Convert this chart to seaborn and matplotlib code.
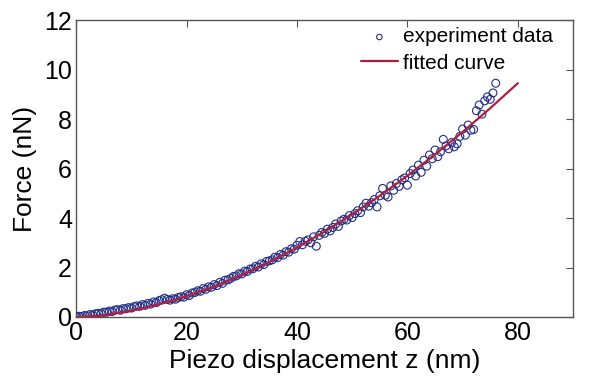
import matplotlib
matplotlib.use("Agg")
import matplotlib.pyplot as plt
import seaborn as sns
import pandas as pd

# ---- data ----
z_data = [
    0.0, 0.5, 1.0, 1.5, 2.0, 2.5, 3.0, 3.5, 4.0, 4.5,
    5.0, 5.5, 6.0, 6.5, 7.0, 7.5, 8.0, 8.5, 9.0, 9.5,
    10.0, 10.5, 11.0, 11.5, 12.0, 12.5, 13.0, 13.5, 14.0, 14.5,
    15.0, 15.5, 16.0, 16.5, 17.0, 17.5, 18.0, 18.5, 19.0, 19.5,
    20.0, 20.5, 21.0, 21.5, 22.0, 22.5, 23.0, 23.5, 24.0, 24.5,
    25.0, 25.5, 26.0, 26.5, 27.0, 27.5, 28.0, 28.5, 29.0, 29.5,
    30.0, 30.5, 31.0, 31.5, 32.0, 32.5, 33.0, 33.5, 34.0, 34.5,
    35.0, 35.5, 36.0, 36.5, 37.0, 37.5, 38.0, 38.5, 39.0, 39.5,
    40.0, 40.5, 41.0, 41.5, 42.0, 42.5, 43.0, 43.5, 44.0, 44.5,
    45.0, 45.5, 46.0, 46.5, 47.0, 47.5, 48.0, 48.5, 49.0, 49.5,
    50.0, 50.5, 51.0, 51.5, 52.0, 52.5, 53.0, 53.5, 54.0, 54.5,
    55.0, 55.5, 56.0, 56.5, 57.0, 57.5, 58.0, 58.5, 59.0, 59.5,
    60.0, 60.5, 61.0, 61.5, 62.0, 62.5, 63.0, 63.5, 64.0, 64.5,
    65.0, 65.5, 66.0, 66.5, 67.0, 67.5, 68.0, 68.5, 69.0, 69.5,
    70.0, 70.5, 71.0, 71.5, 72.0, 72.5, 73.0, 73.5, 74.0, 74.5,
    75.0, 75.5, 76.0,
]
force_data = [
    0.00, 0.03, 0.02, 0.06, 0.05, 0.10, 0.08, 0.13, 0.15, 0.14,
    0.20, 0.19, 0.24, 0.22, 0.28, 0.30, 0.27, 0.34, 0.33, 0.38,
    0.36, 0.42, 0.45, 0.43, 0.50, 0.47, 0.55, 0.52, 0.61, 0.58,
    0.66, 0.70, 0.76, 0.71, 0.68, 0.74, 0.72, 0.79, 0.82, 0.80,
    0.90, 0.87, 0.97, 0.99, 1.06, 1.04, 1.15, 1.12, 1.22, 1.20,
    1.31, 1.27, 1.40, 1.36, 1.49, 1.50, 1.56, 1.64, 1.66, 1.75,
    1.74, 1.85, 1.84, 1.94, 1.95, 2.05, 2.02, 2.15, 2.12, 2.25,
    2.27, 2.31, 2.42, 2.40, 2.53, 2.50, 2.64, 2.62, 2.76, 2.74,
    2.90, 3.05, 2.92, 3.06, 3.12, 3.00, 3.24, 2.86, 3.30, 3.42,
    3.38, 3.55, 3.48, 3.62, 3.76, 3.66, 3.88, 3.95, 3.92, 4.10,
    4.02, 4.18, 4.30, 4.22, 4.45, 4.60, 4.48, 4.62, 4.75, 4.45,
    4.90, 5.20, 4.92, 4.85, 5.30, 5.12, 5.40, 5.28, 5.55, 5.62,
    5.33, 5.80, 5.94, 5.70, 6.14, 5.85, 6.34, 6.10, 6.55, 6.40,
    6.75, 6.48, 6.68, 7.18, 6.92, 6.80, 7.05, 6.88, 7.00, 7.30,
    7.60, 7.35, 7.76, 7.55, 7.58, 8.34, 8.57, 8.20, 8.74, 8.90,
    8.80, 9.06, 9.45,
]
z_fit = [0, 5, 10, 15, 20, 25, 30, 35, 40, 45, 50, 55, 60, 65, 70, 75, 80]
force_fit = [0.00, 0.07, 0.25, 0.51, 0.84, 1.23, 1.70, 2.22, 2.81, 3.45,
             4.15, 4.90, 5.71, 6.57, 7.48, 8.44, 9.45]

x_ticks = [0, 20, 40, 60, 80]
y_ticks = [0, 2, 4, 6, 8, 10, 12]

df_data = pd.DataFrame({"z": z_data, "F": force_data})
df_fit = pd.DataFrame({"z": z_fit, "F": force_fit})

sns.set_theme(style="white")
plt.rcParams["font.family"] = ["Liberation Sans", "DejaVu Sans"]
plt.rcParams["text.color"] = "black"
plt.rcParams["axes.labelcolor"] = "black"

fig = plt.figure(figsize=(6, 3.88), dpi=100)
ax = fig.add_axes([0.127, 0.183, 0.828, 0.765])

sns.scatterplot(data=df_data, x="z", y="F", ax=ax, marker="o", s=32,
                facecolors="none", edgecolor="#232f85", linewidth=0.8,
                label="experiment data", zorder=3)
sns.lineplot(data=df_fit, x="z", y="F", ax=ax, color="#b01e3e", linewidth=1.6,
             label="fitted curve", zorder=4)

ax.set_xlim(0, 90)
ax.set_ylim(0, 12)
ax.set_xticks(x_ticks)
ax.set_yticks(y_ticks)
ax.tick_params(direction="in", length=5, width=0.8, top=True, right=True,
               labelsize=18, pad=3, colors="#555555", labelcolor="black")
for sp in ax.spines.values():
    sp.set_color("#555555")
    sp.set_linewidth(1.0)

ax.set_xlabel("Piezo displacement z (nm)", fontsize=19, labelpad=3,
              color="black")
ax.set_ylabel("Force (nN)", fontsize=19, labelpad=5, color="black")

leg = ax.legend(loc="upper right", frameon=False, fontsize=15,
                handlelength=1.8, handletextpad=0.25, borderaxespad=0.15,
                borderpad=0.2, labelspacing=0.35, markerscale=0.7,
                bbox_to_anchor=(0.975, 1.0))
for t in leg.get_texts():
    t.set_color("black")

fig.savefig("out.png", dpi=100)
